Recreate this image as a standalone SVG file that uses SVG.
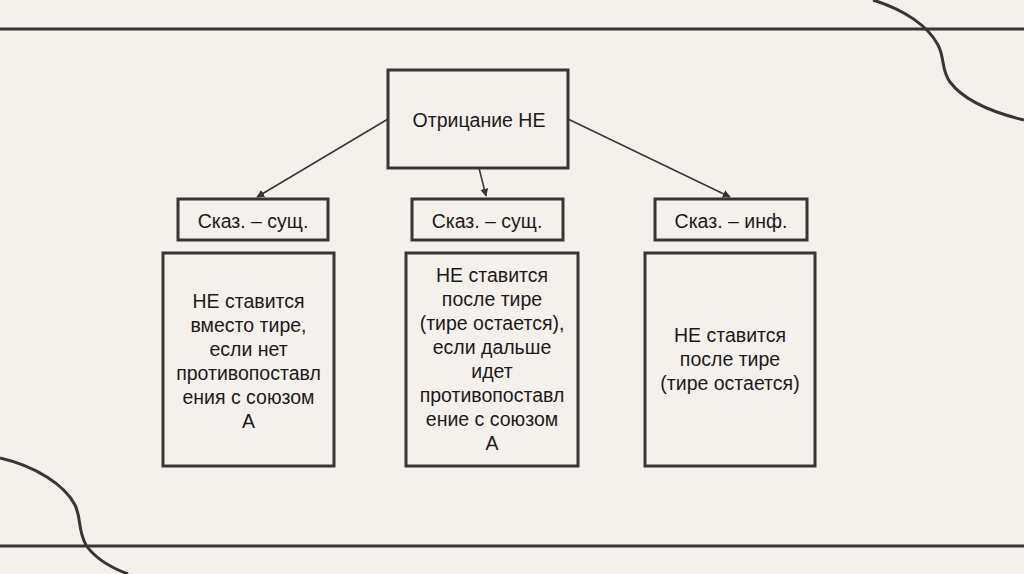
<svg xmlns="http://www.w3.org/2000/svg" width="1024" height="574" viewBox="0 0 1024 574">
<style>
.box{fill:none;stroke:#3a3432;stroke-width:3}
.t{font-family:"Liberation Sans",Arial,sans-serif;font-size:19.5px;fill:#1c1a19;text-anchor:middle}
.deco{fill:none;stroke:#3a3432;stroke-width:3}
.conn{stroke:#3a3432;stroke-width:1.5;fill:none}
</style>
<defs>
<marker id="ah" viewBox="0 0 10 10" refX="9" refY="5" markerWidth="8" markerHeight="8" markerUnits="userSpaceOnUse" orient="auto">
<path d="M0,0 L10,5 L0,10 z" fill="#3a3432"/>
</marker>
</defs>
<rect width="1024" height="574" fill="#f4f1ed"/>
<g id="decor">
<line class="deco" x1="0" y1="29" x2="1024" y2="29"/>
<line class="deco" x1="0" y1="546" x2="1024" y2="546"/>
<path class="deco" d="M873,0 C905,10 928,26 938,45 C945,58 941,70 950,82 C965,102 995,113 1024,120"/>
<path class="deco" d="M0,458 C35,466 65,485 75,505 C82,520 77,528 86,545 C96,560 112,568 128,574"/>
</g>
<g id="connectors">
<line class="conn" x1="388" y1="119" x2="257" y2="197" marker-end="url(#ah)"/>
<line class="conn" x1="479" y1="168" x2="486" y2="196" marker-end="url(#ah)"/>
<line class="conn" x1="568" y1="119" x2="730" y2="197" marker-end="url(#ah)"/>
</g>
<g id="root">
<rect class="box" x="388" y="70" width="180" height="98"/>
<text class="t" x="479" y="127">Отрицание НЕ</text>
</g>
<g id="h1">
<rect class="box" x="178" y="199" width="150" height="41"/>
<text class="t" x="253" y="228">Сказ. – сущ.</text>
</g>
<g id="h2">
<rect class="box" x="412" y="199" width="151" height="41"/>
<text class="t" x="487" y="228">Сказ. – сущ.</text>
</g>
<g id="h3">
<rect class="box" x="655" y="199" width="152" height="41"/>
<text class="t" x="731" y="228">Сказ. – инф.</text>
</g>
<g id="b1">
<rect class="box" x="163" y="253" width="171" height="213"/>
<text class="t" x="248.5" y="308">НЕ ставится</text>
<text class="t" x="248.5" y="332">вместо тире,</text>
<text class="t" x="248.5" y="356">если нет</text>
<text class="t" x="248.5" y="380">противопоставл</text>
<text class="t" x="248.5" y="404">ения с союзом</text>
<text class="t" x="248.5" y="428">А</text>
</g>
<g id="b2">
<rect class="box" x="406" y="253" width="172" height="213"/>
<text class="t" x="492" y="282">НЕ ставится</text>
<text class="t" x="492" y="306">после тире</text>
<text class="t" x="492" y="330">(тире остается),</text>
<text class="t" x="492" y="354">если дальше</text>
<text class="t" x="492" y="378">идет</text>
<text class="t" x="492" y="402">противопоставл</text>
<text class="t" x="492" y="426">ение с союзом</text>
<text class="t" x="492" y="450">А</text>
</g>
<g id="b3">
<rect class="box" x="645" y="253" width="170" height="213"/>
<text class="t" x="730" y="342">НЕ ставится</text>
<text class="t" x="730" y="366">после тире</text>
<text class="t" x="730" y="390">(тире остается)</text>
</g>
</svg>
